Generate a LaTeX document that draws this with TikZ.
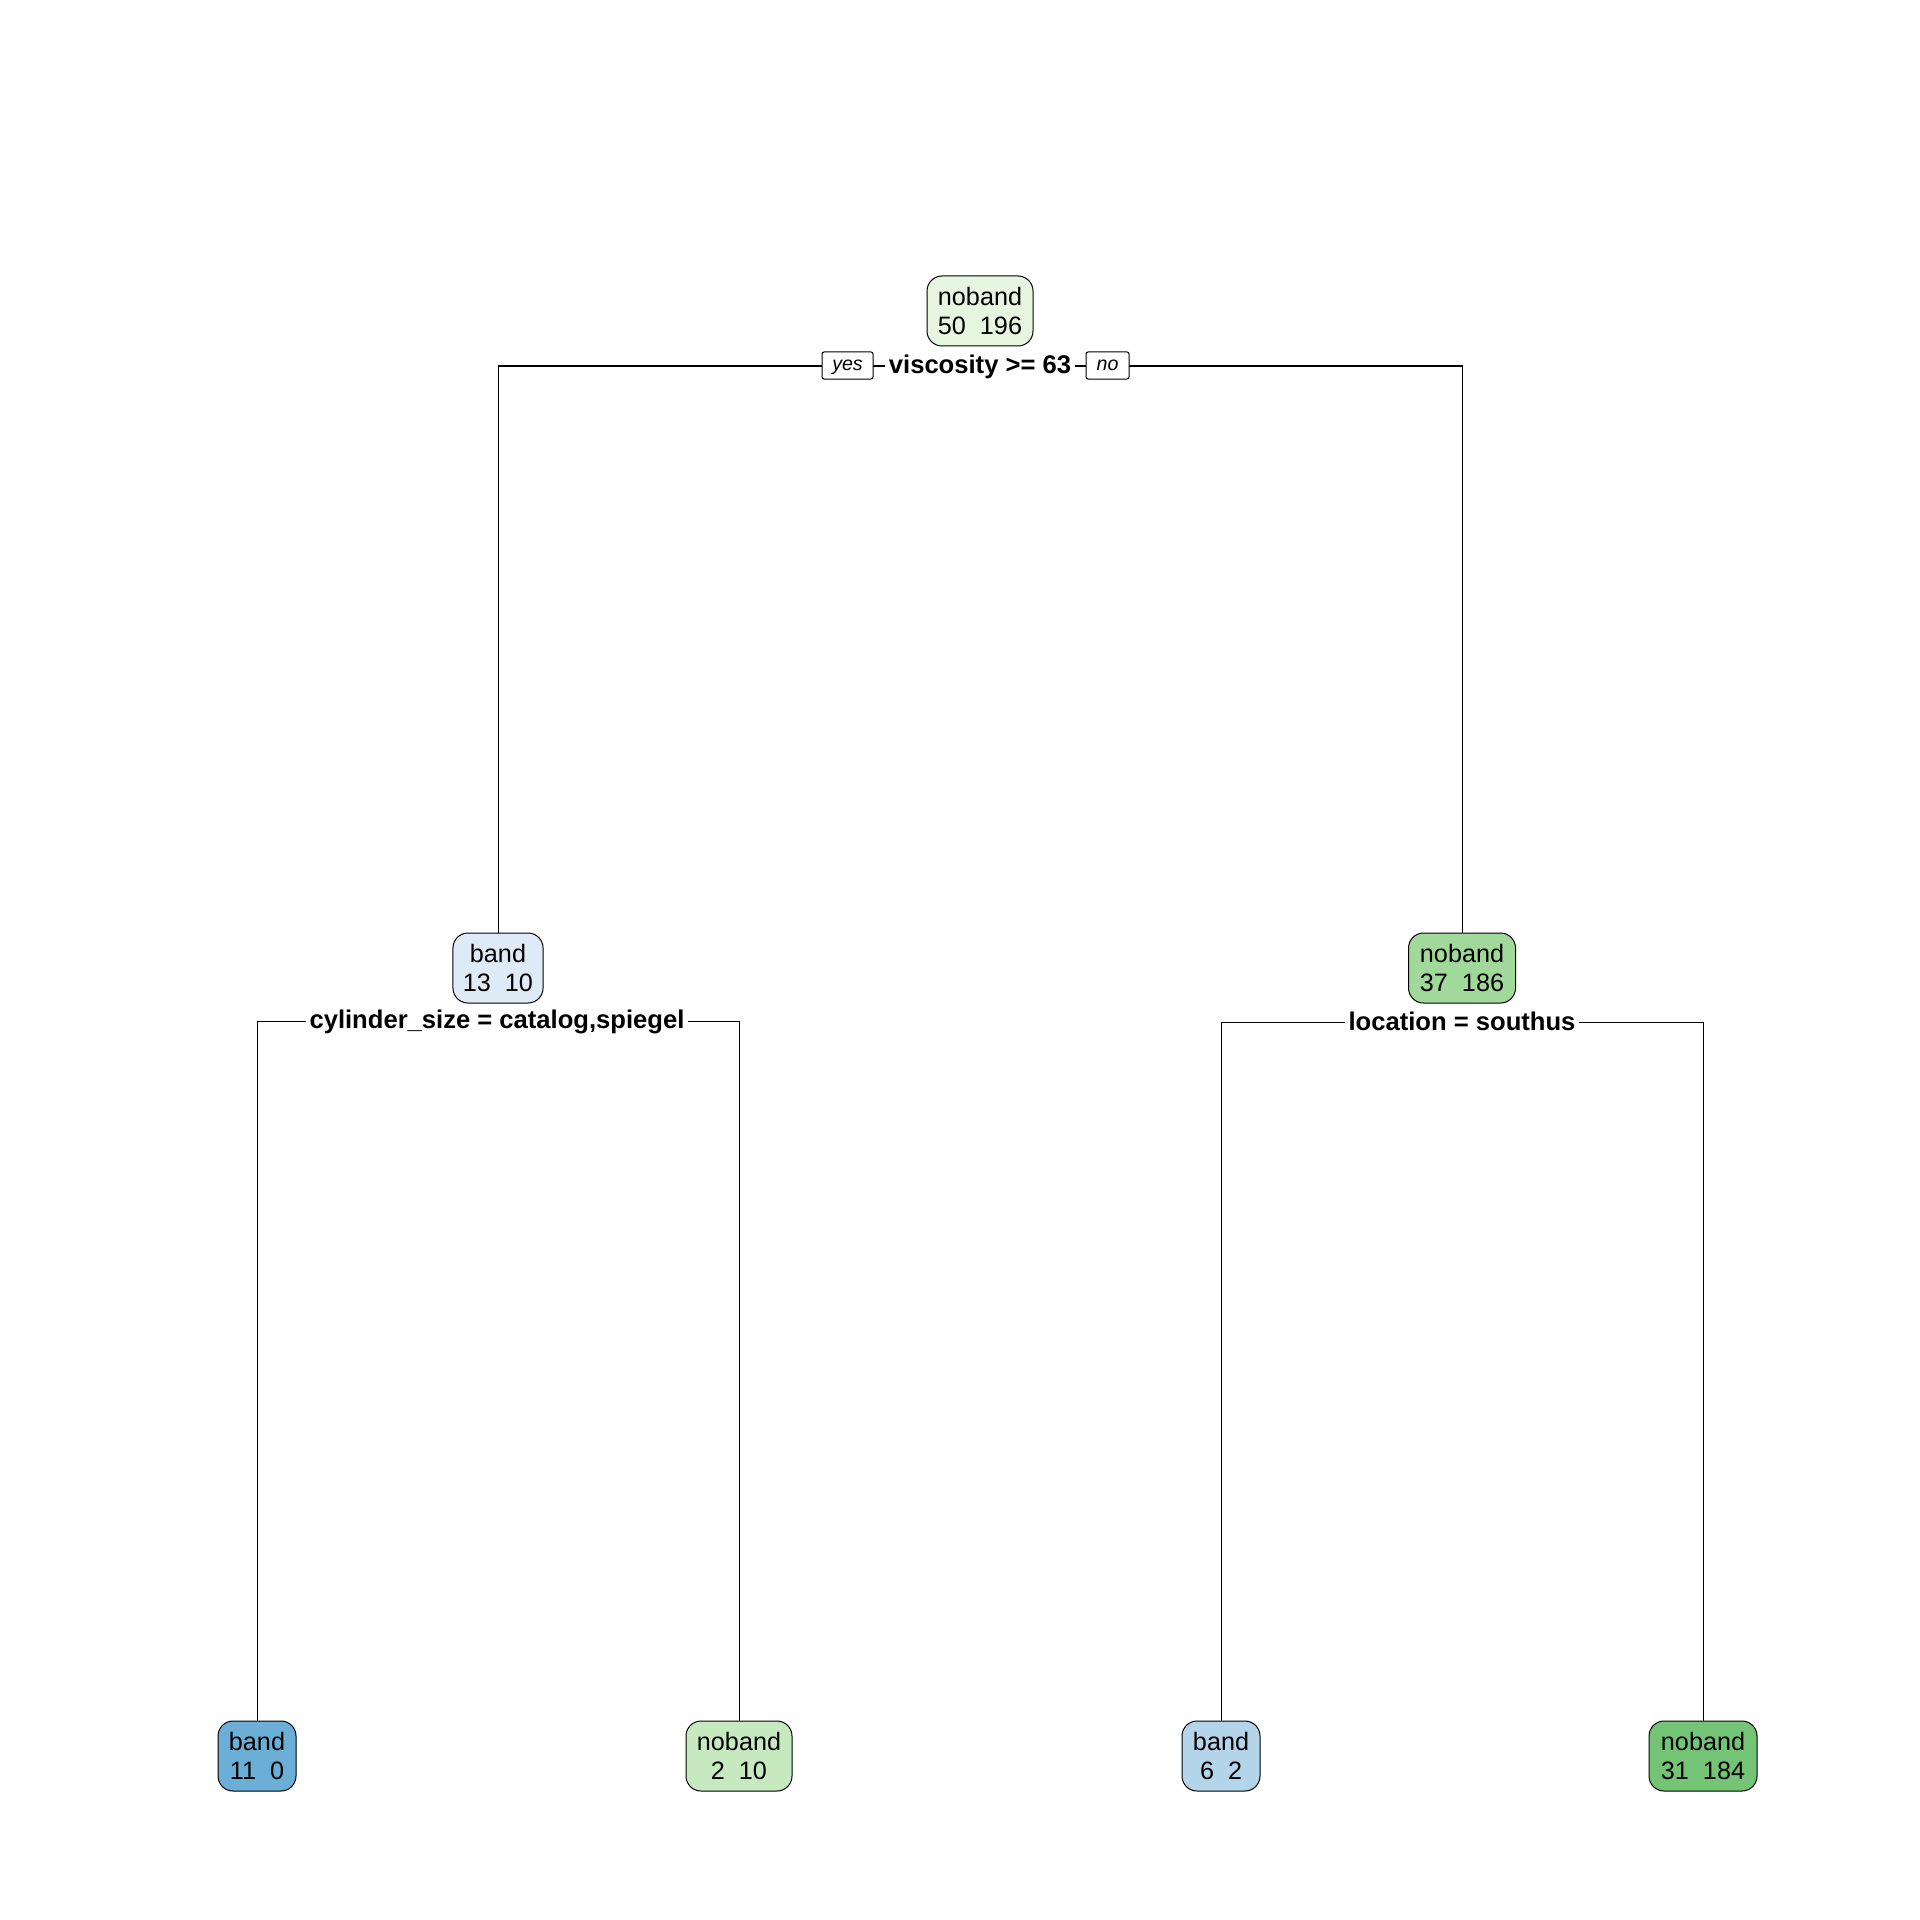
\documentclass[tikz,border=0pt]{standalone}
\usepackage{fontspec}
\setmainfont{Liberation Sans}
\usetikzlibrary{backgrounds}
\definecolor{cRoot}{HTML}{E5F5E0}
\definecolor{cBandA}{HTML}{DEEBF7}
\definecolor{cNoA}{HTML}{A1D99B}
\definecolor{cBandB}{HTML}{6BAED6}
\definecolor{cNoB}{HTML}{C7E9C0}
\definecolor{cBandC}{HTML}{B4D4E9}
\definecolor{cNoC}{HTML}{74C476}
\tikzset{
  treenode/.style={draw=black, line width=0.5pt, rounded corners=7.5pt,
    align=center, minimum height=35pt, inner xsep=5pt, inner ysep=0pt,
    font=\fontsize{12.6}{14.5}\selectfont},
  splitlabel/.style={fill=white, inner xsep=2pt, inner ysep=1pt, anchor=base,
    font=\fontsize{12.8}{15}\selectfont\bfseries},
  branchtag/.style={draw=black, fill=white, line width=0.5pt, rounded corners=1pt,
    minimum height=13.5pt, inner ysep=0pt, text height=5.2pt, text depth=0pt,
    font=\fontsize{9.8}{11}\selectfont\itshape},
  wire/.style={draw=black, line width=0.5pt}
}
\begin{document}
\begin{tikzpicture}[x=0.5pt,y=-0.5pt]
\useasboundingbox (0,0) rectangle (1920,1920);

% tree nodes
\node[treenode, fill=cRoot, minimum width=53pt] (root) at (980,311) {noband\\50\ \ 196};
\node[treenode, fill=cBandA, minimum width=45pt] (n2) at (498,968) {band\\13\ \ 10};
\node[treenode, fill=cNoA, minimum width=53.5pt] (n3) at (1462,968) {noband\\37\ \ 186};
\node[treenode, fill=cBandB, minimum width=39pt] (n4) at (257,1756) {band\\11\ \ 0};
\node[treenode, fill=cNoB, minimum width=53pt] (n5) at (739,1756) {noband\\2\ \ 10};
\node[treenode, fill=cBandC, minimum width=39pt] (n6) at (1221,1756) {band\\6\ \ 2};
\node[treenode, fill=cNoC, minimum width=54pt] (n7) at (1703,1756) {noband\\31\ \ 184};

% split junctions
\coordinate (j1) at (980,366);
\coordinate (j2) at (498,1021);
\coordinate (j3) at (1462,1022);

% split labels
\node[splitlabel] (s1) at (980,373) {viscosity >= 63};
\node[splitlabel] (s2) at (497,1028) {cylinder\_size = catalog,spiegel};
\node[splitlabel] (s3) at (1462,1030) {location = southus};
\node[branchtag, minimum width=25.5pt] (yes) at (847.5,365.5) {yes};
\node[branchtag, minimum width=21.5pt] (no) at (1107.5,365.5) {no};

% connectors
\begin{pgfonlayer}{background}
\draw[wire] (n2.north) |- (j1) -| (n3.north);
\draw[wire] (n4.north) |- (j2) -| (n5.north);
\draw[wire] (n6.north) |- (j3) -| (n7.north);
\end{pgfonlayer}
\end{tikzpicture}
\end{document}
